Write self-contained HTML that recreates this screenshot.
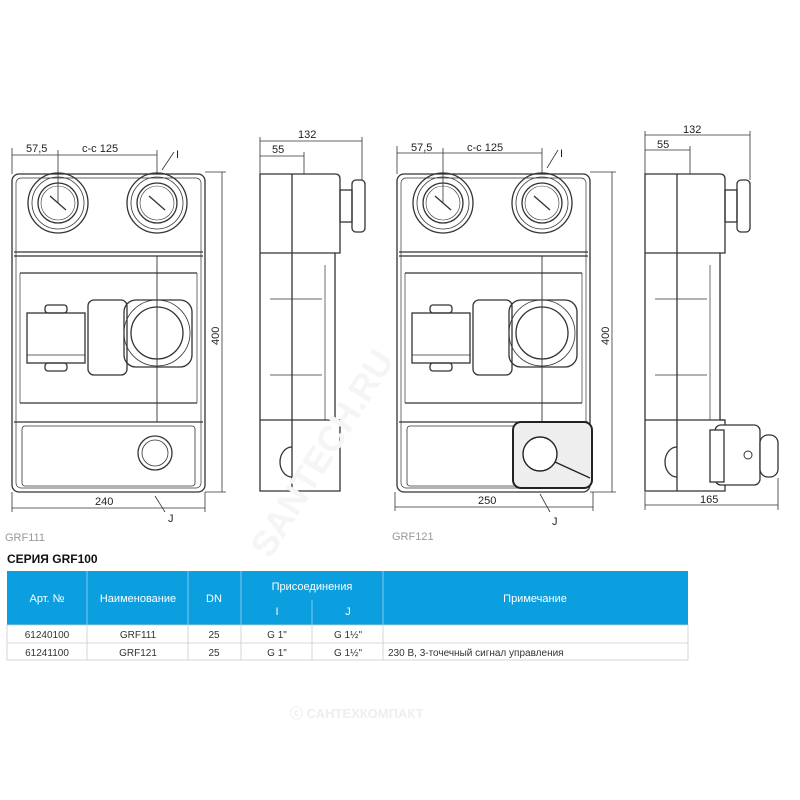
<!DOCTYPE html>
<html><head><meta charset="utf-8"><style>
html,body{margin:0;padding:0;background:#fff}
svg{display:block}
text{font-family:"Liberation Sans",sans-serif}
</style></head><body>
<svg width="800" height="800" viewBox="0 0 800 800" xmlns="http://www.w3.org/2000/svg">
<defs>
<g id="front" fill="none" stroke="#333" stroke-width="1.3">
  <rect x="12" y="174" width="193" height="318" rx="7"/>
  <rect x="16" y="178" width="185" height="310" rx="5" stroke-width="0.7"/>
  <line x1="14" y1="252" x2="203" y2="252"/>
  <line x1="14" y1="256" x2="203" y2="256"/>
  <line x1="20" y1="273" x2="197" y2="273"/>
  <line x1="20" y1="403" x2="197" y2="403"/>
  <line x1="14" y1="422" x2="203" y2="422"/>
  <line x1="20" y1="273" x2="20" y2="403" stroke-width="0.7"/>
  <line x1="197" y1="273" x2="197" y2="403" stroke-width="0.7"/>
  <rect x="22" y="426" width="173" height="60" rx="3" stroke-width="0.8"/>
  <g>
    <circle cx="58" cy="203" r="30"/><circle cx="58" cy="203" r="26" stroke-width="0.8"/>
    <circle cx="58" cy="203" r="20"/><circle cx="58" cy="203" r="17" stroke-width="0.6"/>
    <line x1="50" y1="196" x2="66" y2="210"/>
    <circle cx="157" cy="203" r="30"/><circle cx="157" cy="203" r="26" stroke-width="0.8"/>
    <circle cx="157" cy="203" r="20"/><circle cx="157" cy="203" r="17" stroke-width="0.6"/>
    <line x1="149" y1="196" x2="165" y2="210"/>
  </g>
  <rect x="27" y="313" width="58" height="50"/>
  <line x1="27" y1="355" x2="85" y2="355" stroke-width="0.7"/>
  <rect x="45" y="305" width="22" height="8" rx="3"/>
  <rect x="45" y="363" width="22" height="8" rx="3"/>
  <rect x="88" y="300" width="39" height="75" rx="6"/>
  <rect x="124" y="300" width="68" height="67" rx="12"/>
  <circle cx="157" cy="333" r="33" stroke-width="0.8"/>
  <circle cx="157" cy="333" r="26"/>
  <line x1="157" y1="256" x2="157" y2="422" stroke-width="0.9"/>
</g>
<g id="side" fill="none" stroke="#333" stroke-width="1.3">
  <path d="M260 174 H335 Q340 174 340 179 V253 H335 V420 H340 V491 H260 Z"/>
  <line x1="292" y1="174" x2="292" y2="491"/>
  <line x1="260" y1="253" x2="335" y2="253"/>
  <line x1="260" y1="420" x2="340" y2="420"/>
  <line x1="325" y1="265" x2="325" y2="420" stroke-width="0.7"/>
  <line x1="270" y1="299" x2="322" y2="299" stroke-width="0.8"/>
  <line x1="270" y1="375" x2="322" y2="375" stroke-width="0.8"/>
  <rect x="340" y="190" width="12" height="32"/>
  <rect x="352" y="180" width="13" height="52" rx="4"/>
  <path d="M292 447 A12 15 0 0 0 292 477"/>
</g>
</defs>

<!-- LEFT FRONT -->
<use href="#front"/>
<circle cx="155" cy="453" r="17" fill="none" stroke="#333" stroke-width="1.3"/>
<circle cx="155" cy="453" r="13" fill="none" stroke="#333" stroke-width="0.8"/>
<g stroke="#333" stroke-width="0.8" fill="none">
  <line x1="12" y1="155" x2="157" y2="155"/>
  <line x1="12" y1="148" x2="12" y2="174"/><line x1="58" y1="150" x2="58" y2="203"/><line x1="157" y1="150" x2="157" y2="174"/>
  <line x1="162" y1="170" x2="174" y2="152"/>
  <line x1="222" y1="172" x2="222" y2="492"/>
  <line x1="205" y1="172" x2="226" y2="172"/><line x1="205" y1="492" x2="226" y2="492"/>
  <line x1="12" y1="508" x2="205" y2="508"/>
  <line x1="12" y1="492" x2="12" y2="512"/><line x1="205" y1="492" x2="205" y2="512"/>
  <line x1="155" y1="496" x2="165" y2="512"/>
</g>
<g font-size="11" fill="#222">
  <text x="26" y="152">57,5</text><text x="82" y="152">c-c 125</text>
  <text x="176" y="158">I</text>
  <text x="0" y="0" transform="translate(219,345) rotate(-90)">400</text>
  <text x="95" y="505">240</text>
  <text x="168" y="522">J</text>
</g>
<text x="5" y="541" font-size="11" fill="#999">GRF111</text>

<!-- LEFT SIDE -->
<use href="#side"/>
<g stroke="#333" stroke-width="0.8">
  <line x1="260" y1="141" x2="362" y2="141"/><line x1="260" y1="137" x2="260" y2="174"/><line x1="362" y1="137" x2="362" y2="180"/>
  <line x1="260" y1="156" x2="304" y2="156"/><line x1="304" y1="152" x2="304" y2="174"/>
</g>
<g font-size="11" fill="#222"><text x="298" y="138">132</text><text x="272" y="153">55</text></g>

<!-- RIGHT FRONT -->
<g transform="translate(385,0)"><use href="#front"/></g>
<rect x="513" y="422" width="79" height="66" rx="8" fill="#eee" stroke="#222" stroke-width="2"/>
<circle cx="540" cy="454" r="17" fill="#fff" stroke="#222" stroke-width="1.4"/>
<line x1="555" y1="462" x2="590" y2="478" stroke="#222" stroke-width="1.3"/>
<g stroke="#333" stroke-width="0.8" fill="none">
  <line x1="397" y1="153" x2="542" y2="153"/>
  <line x1="397" y1="146" x2="397" y2="174"/><line x1="443" y1="148" x2="443" y2="203"/><line x1="542" y1="148" x2="542" y2="174"/>
  <line x1="547" y1="168" x2="558" y2="150"/>
  <line x1="612" y1="172" x2="612" y2="492"/>
  <line x1="590" y1="172" x2="616" y2="172"/><line x1="590" y1="492" x2="616" y2="492"/>
  <line x1="395" y1="507" x2="593" y2="507"/>
  <line x1="395" y1="492" x2="395" y2="511"/><line x1="593" y1="492" x2="593" y2="511"/>
  <line x1="540" y1="494" x2="550" y2="512"/>
</g>
<g font-size="11" fill="#222">
  <text x="411" y="151">57,5</text><text x="467" y="151">c-c 125</text>
  <text x="560" y="157">I</text>
  <text x="0" y="0" transform="translate(609,345) rotate(-90)">400</text>
  <text x="478" y="504">250</text>
  <text x="552" y="525">J</text>
</g>
<text x="392" y="540" font-size="11" fill="#999">GRF121</text>

<!-- RIGHT SIDE -->
<g transform="translate(385,0)"><use href="#side"/></g>
<rect x="715" y="425" width="45" height="60" rx="6" fill="#fff" stroke="#333" stroke-width="1.3"/>
<rect x="710" y="430" width="14" height="52" fill="#fff" stroke="#333" stroke-width="1.3"/>
<rect x="760" y="435" width="18" height="42" rx="8" fill="#fff" stroke="#333" stroke-width="1.3"/>
<circle cx="748" cy="455" r="4" fill="none" stroke="#333"/>
<g stroke="#333" stroke-width="0.8">
  <line x1="645" y1="135" x2="750" y2="135"/><line x1="645" y1="131" x2="645" y2="174"/><line x1="750" y1="131" x2="750" y2="180"/>
  <line x1="645" y1="150" x2="690" y2="150"/><line x1="690" y1="146" x2="690" y2="174"/>
  <line x1="645" y1="505" x2="778" y2="505"/><line x1="645" y1="492" x2="645" y2="510"/><line x1="778" y1="478" x2="778" y2="510"/>
</g>
<g font-size="11" fill="#222"><text x="683" y="133">132</text><text x="657" y="148">55</text><text x="700" y="503">165</text></g>

<!-- watermarks -->
<text x="0" y="0" transform="translate(270,560) rotate(-58)" font-size="36" font-weight="bold" fill="#f5f5f5">SANTECH.RU</text>
<text x="290" y="718" font-size="13" font-weight="bold" fill="#eeeeee">ⓒ САНТЕХКОМПАКТ</text>

<!-- table -->
<text x="7" y="563" font-size="12" font-weight="bold" fill="#111">СЕРИЯ GRF100</text>
<rect x="7" y="571" width="681" height="54" fill="#0c9fe0"/>
<g stroke="#9fd3f0" stroke-width="0.8">
  <line x1="87" y1="571" x2="87" y2="625"/><line x1="188" y1="571" x2="188" y2="625"/>
  <line x1="241" y1="571" x2="241" y2="625"/><line x1="383" y1="571" x2="383" y2="625"/>
  <line x1="312" y1="600" x2="312" y2="625"/>
</g>
<g font-size="11" fill="#fff" text-anchor="middle">
  <text x="47" y="602">Арт. №</text><text x="138" y="602">Наименование</text><text x="214" y="602">DN</text>
  <text x="312" y="590">Присоединения</text><text x="277" y="615">I</text><text x="348" y="615">J</text>
  <text x="535" y="602">Примечание</text>
</g>
<g stroke="#ccc" stroke-width="0.8" fill="none">
  <rect x="7" y="625" width="681" height="35"/>
  <line x1="7" y1="643" x2="688" y2="643"/>
  <line x1="87" y1="625" x2="87" y2="660"/><line x1="188" y1="625" x2="188" y2="660"/>
  <line x1="241" y1="625" x2="241" y2="660"/><line x1="312" y1="625" x2="312" y2="660"/>
  <line x1="383" y1="625" x2="383" y2="660"/>
</g>
<g font-size="10" fill="#333" text-anchor="middle">
  <text x="47" y="638">61240100</text><text x="138" y="638">GRF111</text><text x="214" y="638">25</text><text x="277" y="638">G 1"</text><text x="348" y="638">G 1½"</text>
  <text x="47" y="656">61241100</text><text x="138" y="656">GRF121</text><text x="214" y="656">25</text><text x="277" y="656">G 1"</text><text x="348" y="656">G 1½"</text>
</g>
<text x="388" y="656" font-size="10" fill="#333">230 В, 3-точечный сигнал управления</text>
</svg>
</body></html>
